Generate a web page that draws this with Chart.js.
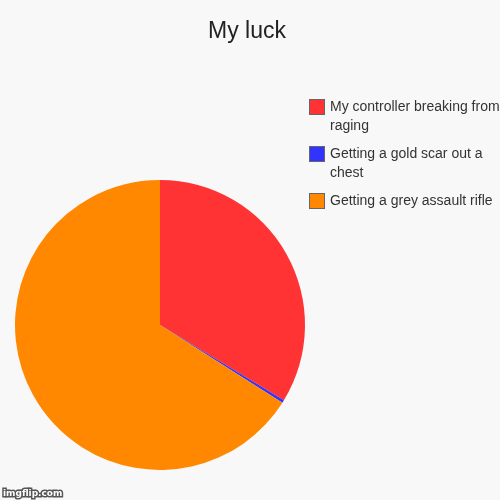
<!DOCTYPE html>
<html>
<head>
<meta charset="utf-8">
<script src="https://cdn.jsdelivr.net/npm/chart.js@4/dist/chart.umd.min.js"></script>
<style>
  html, body { margin: 0; padding: 0; background: #f8f8f8; }
  #wrap { width: 500px; height: 500px; }
</style>
</head>
<body>
<div id="wrap"><canvas id="pie" width="500" height="500"></canvas></div>
<script>
const chartTitle = 'My luck';
const labels = [
  ['My controller breaking from', 'raging'],
  ['Getting a gold scar out a', 'chest'],
  ['Getting a grey assault rifle']
];
const values = [33.7, 0.3, 66.0];
const colors = ['#ff3333', '#3333ff', '#ff8800'];

// title, legend and watermark drawn by hand so they sit where the reference has them
const decor = {
  id: 'decor',
  beforeDraw(chart) {
    const c = chart.ctx;
    c.save();
    c.fillStyle = '#f8f8f8';
    c.fillRect(0, 0, chart.width, chart.height);
    c.restore();
  },
  afterDraw(chart) {
    const c = chart.ctx;
    c.save();
    c.fillStyle = '#222';
    c.font = '23px "Liberation Sans", Arial, sans-serif';
    c.textAlign = 'center';
    c.textBaseline = 'alphabetic';
    c.fillText(chartTitle, 247, 38);

    c.font = '14px "Liberation Sans", Arial, sans-serif';
    c.textAlign = 'left';
    c.textBaseline = 'middle';
    let y = 99;
    labels.forEach((lines, i) => {
      c.fillStyle = colors[i];
      c.fillRect(309, y, 16, 16);
      c.strokeStyle = '#666';
      c.lineWidth = 1;
      c.strokeRect(309.5, y + 0.5, 15, 15);
      c.fillStyle = '#333';
      lines.forEach((t, j) => c.fillText(t, 330, y + 8 + j * 19));
      y += 19 * lines.length + 9;
    });

    c.font = 'bold 9px "DejaVu Sans", sans-serif';
    c.lineWidth = 3;
    c.strokeStyle = '#555';
    c.strokeText('imgflip.com', 3, 494);
    c.fillStyle = '#fff';
    c.fillText('imgflip.com', 3, 494);
    c.restore();
  }
};

new Chart(document.getElementById('pie'), {
  type: 'pie',
  data: {
    labels: labels.map(l => l.join(' ')),
    datasets: [{
      data: values,
      backgroundColor: colors,
      borderWidth: 0
    }]
  },
  options: {
    responsive: false,
    animation: false,
    layout: { padding: { left: 15, top: 180, right: 195, bottom: 30 } },
    plugins: {
      legend: { display: false },
      title: { display: false },
      tooltip: { enabled: false }
    }
  },
  plugins: [decor]
});
</script>
</body>
</html>
